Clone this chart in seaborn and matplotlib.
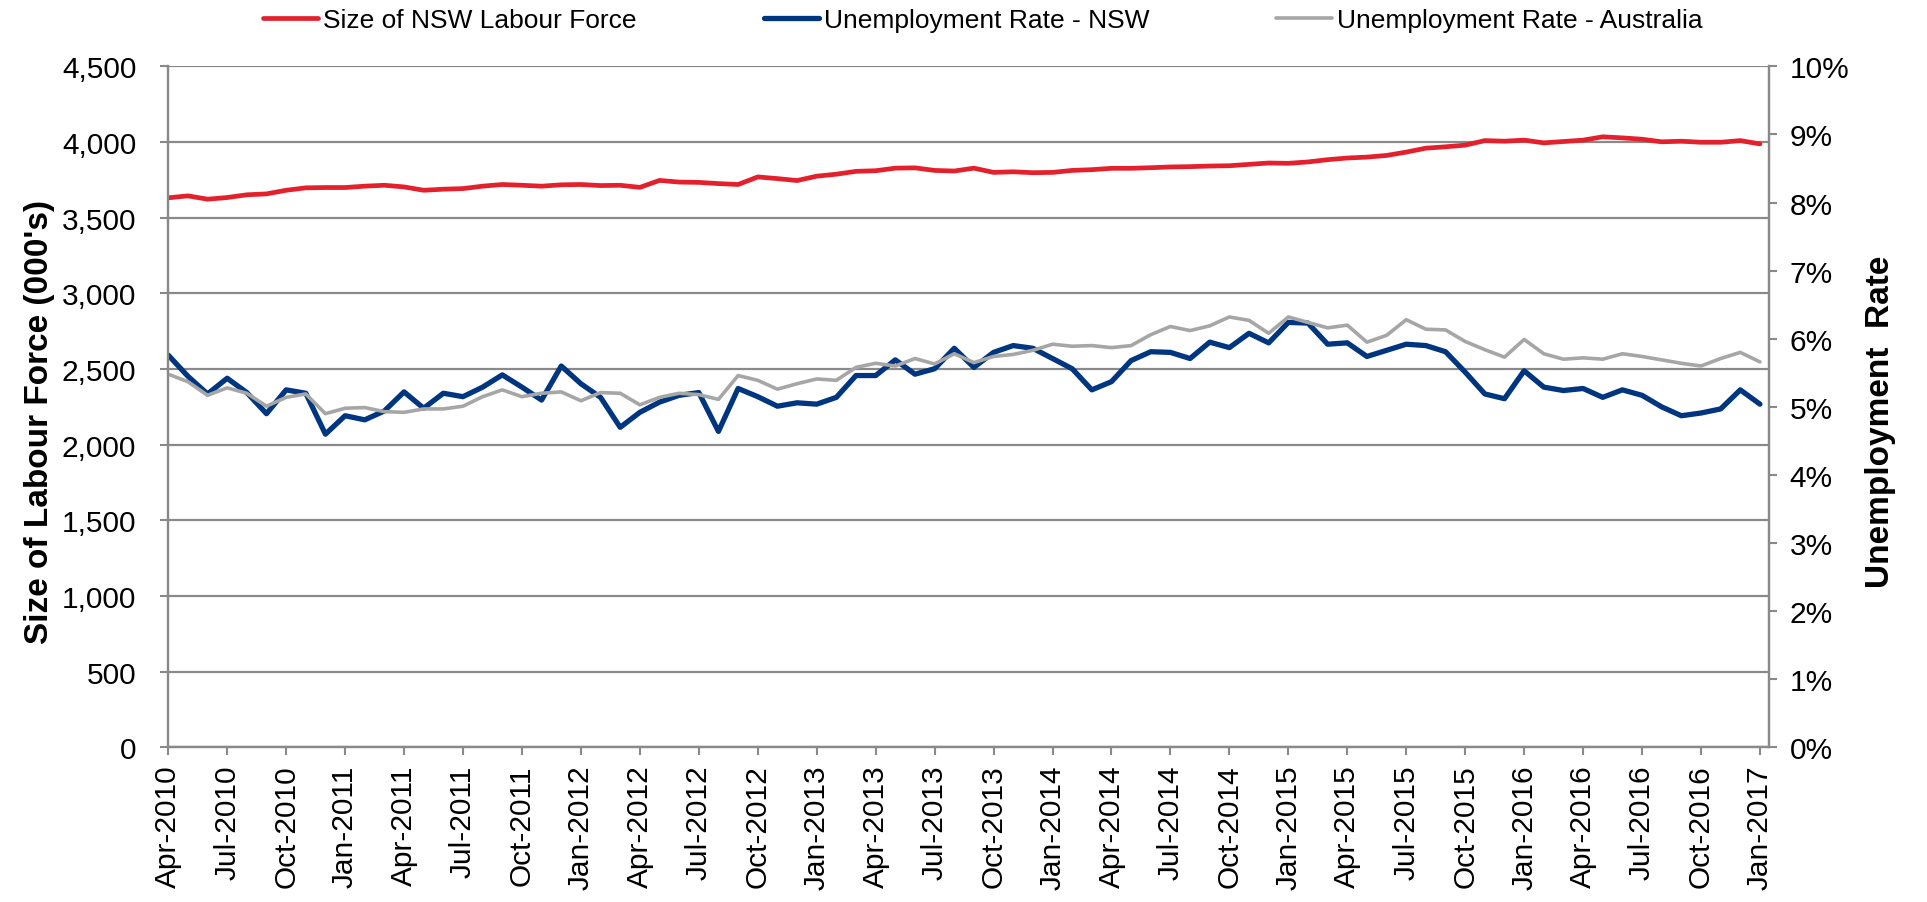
import numpy as np
import pandas as pd
import matplotlib
matplotlib.use('Agg')
import matplotlib.pyplot as plt
import seaborn as sns
from matplotlib.ticker import FuncFormatter

# Monthly series, Apr-2010 to Jan-2017
labour_force = [
    3631, 3644, 3622, 3633, 3651, 3657, 3681, 3697, 3699, 3699,
    3708, 3714, 3703, 3681, 3688, 3692, 3708, 3719, 3714, 3708,
    3717, 3719, 3712, 3714, 3700, 3746, 3735, 3733, 3725, 3719,
    3769, 3758, 3745, 3774, 3787, 3806, 3810, 3827, 3829, 3812,
    3808, 3827, 3799, 3803, 3797, 3799, 3812, 3817, 3826, 3826,
    3830, 3835, 3837, 3841, 3843, 3852, 3861, 3859, 3868, 3883,
    3894, 3900, 3911, 3933, 3959, 3968, 3979, 4009, 4005, 4012,
    3994, 4003, 4012, 4034, 4027, 4018, 4001, 4005, 3998, 3998,
    4009, 3987,
]
unemp_nsw = [
    5.76, 5.45, 5.19, 5.42, 5.21, 4.90, 5.25, 5.20, 4.60, 4.87,
    4.81, 4.94, 5.22, 4.98, 5.20, 5.15, 5.29, 5.47, 5.29, 5.10,
    5.60, 5.34, 5.14, 4.70, 4.92, 5.07, 5.17, 5.21, 4.64, 5.27,
    5.15, 5.01, 5.06, 5.04, 5.14, 5.46, 5.46, 5.69, 5.48, 5.56,
    5.86, 5.58, 5.80, 5.90, 5.86, 5.71, 5.56, 5.25, 5.37, 5.68,
    5.81, 5.80, 5.71, 5.95, 5.87, 6.08, 5.94, 6.24, 6.23, 5.92,
    5.94, 5.74, 5.83, 5.92, 5.90, 5.81, 5.51, 5.19, 5.12, 5.53,
    5.29, 5.24, 5.27, 5.14, 5.25, 5.17, 5.00, 4.87, 4.91, 4.97,
    5.25, 5.04,
]
unemp_aus = [
    5.48, 5.37, 5.17, 5.28, 5.20, 5.01, 5.14, 5.19, 4.90, 4.98,
    4.99, 4.93, 4.92, 4.97, 4.97, 5.01, 5.15, 5.25, 5.15, 5.20,
    5.22, 5.09, 5.21, 5.20, 5.03, 5.14, 5.20, 5.18, 5.11, 5.46,
    5.39, 5.26, 5.34, 5.41, 5.39, 5.58, 5.64, 5.60, 5.71, 5.63,
    5.78, 5.65, 5.74, 5.77, 5.83, 5.92, 5.89, 5.90, 5.87, 5.90,
    6.06, 6.18, 6.12, 6.19, 6.32, 6.27, 6.08, 6.32, 6.24, 6.16,
    6.20, 5.95, 6.05, 6.28, 6.14, 6.13, 5.96, 5.84, 5.73, 5.99,
    5.78, 5.70, 5.72, 5.70, 5.78, 5.74, 5.69, 5.64, 5.60, 5.71,
    5.80, 5.66,
]
series_names = ['Size of NSW Labour Force', 'Unemployment Rate - NSW',
                'Unemployment Rate - Australia']

months = pd.date_range('2010-04-01', periods=len(labour_force), freq='MS')
month_labels = list(months.strftime('%b-%Y'))

df = pd.DataFrame({
    'month': np.arange(len(labour_force)),
    'labour': labour_force,
    'nsw': unemp_nsw,
    'aus': unemp_aus,
})

RED = '#E3202B'
NAVY = '#003580'
GREY = '#A6A6A6'
AXIS_GREY = '#898989'

sns.set_theme(style='white')
plt.rcParams['font.family'] = ['Liberation Sans', 'DejaVu Sans']
plt.rcParams['text.color'] = 'black'
plt.rcParams['axes.labelcolor'] = 'black'
plt.rcParams['xtick.color'] = 'black'
plt.rcParams['ytick.color'] = 'black'

fig = plt.figure(figsize=(19.27, 9.03), dpi=100)
ax = fig.add_axes([0.0873, 0.1711, 0.8307, 0.7544])
ax2 = ax.twinx()

sns.lineplot(data=df, x='month', y='labour', ax=ax, color=RED, lw=3.4,
             solid_joinstyle='round', solid_capstyle='round', legend=False)
sns.lineplot(data=df, x='month', y='nsw', ax=ax2, color=NAVY, lw=3.8,
             solid_joinstyle='round', solid_capstyle='round', legend=False)
sns.lineplot(data=df, x='month', y='aus', ax=ax2, color=GREY, lw=2.6,
             solid_joinstyle='round', solid_capstyle='round', legend=False)

# axes ranges and ticks
ax.set_xlim(0, 81.46)
ax.set_ylim(0, 4500)
ax.set_yticks(range(0, 4501, 500))
ax.yaxis.set_major_formatter(FuncFormatter(lambda v, p: f'{v:,.0f}'))
ax2.set_ylim(0, 10)
ax2.set_yticks(range(0, 11))
ax2.yaxis.set_major_formatter(FuncFormatter(lambda v, p: f'{v:.0f}%'))

tick_pos = list(range(0, len(month_labels), 3))
ax.set_xticks(tick_pos)
ax.set_xticklabels([month_labels[i] for i in tick_pos], rotation=90)

ax.grid(axis='y', color=AXIS_GREY, lw=1.6)
ax.grid(axis='x', visible=False)
ax2.grid(False)
ax.set_axisbelow(True)

for a in (ax, ax2):
    a.spines['top'].set_visible(False)
    for s in ('left', 'right', 'bottom'):
        a.spines[s].set_color(AXIS_GREY)
        a.spines[s].set_linewidth(1.6)

ax.tick_params(axis='x', bottom=True, direction='out', length=6, width=1.5,
               color=AXIS_GREY, labelcolor='black', labelsize=21.5, pad=6)
ax.tick_params(axis='y', left=True, direction='out', length=6, width=1.5,
               color=AXIS_GREY, labelcolor='black', labelsize=21.5, pad=17)
ax2.tick_params(axis='y', right=True, direction='out', length=6, width=1.5,
                color=AXIS_GREY, labelcolor='black', labelsize=21.5, pad=9)

ax.set_xlabel('')
ax.set_ylabel("Size of Labour Force (000's)", fontsize=24, fontweight='bold')
ax.yaxis.set_label_coords(-0.071, 0.48)
ax2.set_ylabel('Unemployment  Rate', fontsize=24, fontweight='bold')
ax2.yaxis.set_label_coords(1.06, 0.48)

handles = [ax.get_lines()[0], ax2.get_lines()[0], ax2.get_lines()[1]]
fig.legend(handles, series_names, loc='center', bbox_to_anchor=(0.51, 0.977),
           ncol=3, frameon=False, fontsize=19, handlelength=2.1,
           handletextpad=0.2, columnspacing=4.8)

fig.savefig('out.png', dpi=100)
